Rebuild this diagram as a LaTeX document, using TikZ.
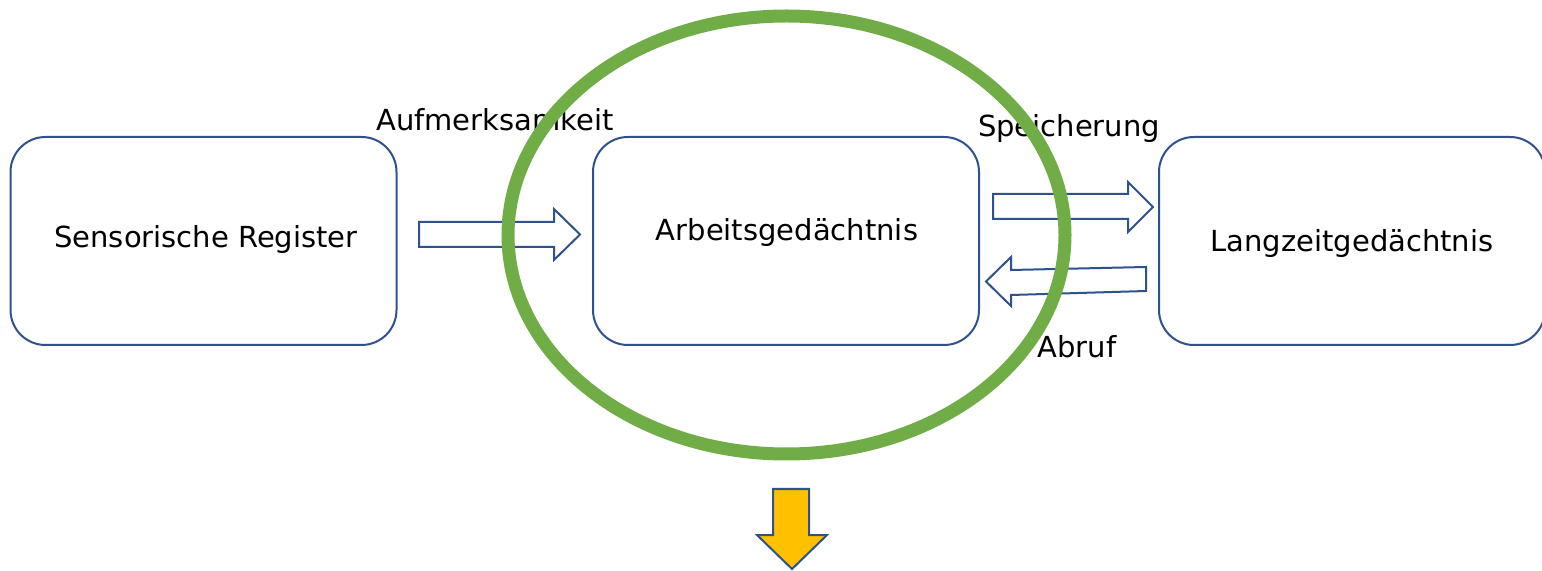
\documentclass[tikz,border=0pt]{standalone}
\usepackage{fontspec}
\setmainfont{DejaVu Sans}
\usetikzlibrary{shapes.geometric}
\definecolor{boxblue}{HTML}{2F528F}
\definecolor{ellgreen}{HTML}{70AD47}
\definecolor{arrowyellow}{HTML}{FFC000}
\begin{document}
\begin{tikzpicture}[x=0.5pt,y=-0.5pt,
  box/.style={draw=boxblue, line width=1pt, rounded corners=17.5pt, fill=white,
    minimum width=193pt, minimum height=104pt, inner sep=0pt},
  boxtext/.style={font=\fontsize{14.5}{17}\selectfont, text=black, anchor=base, inner sep=0pt},
  lbl/.style={font=\fontsize{14.5}{17}\selectfont, text=black, anchor=base, inner sep=0pt},
  blockarrow/.style={draw=boxblue, line width=1pt, fill=white, line join=miter},
]
\useasboundingbox (0,0) rectangle (1542,571);
\begin{scope}
\clip (0,0) rectangle (1542,571);
\fill[white] (0,0) rectangle (1542,571);
% boxes
\node[box] (sr) at (203.5,241) {};
\node[box] (ag) at (786,241) {};
\node[box] (lz) at (1352,241) {};
\node[boxtext] (srt) at (206,248) {Sensorische Register};
\node[boxtext] (agt) at (787,241) {Arbeitsgedächtnis};
\node[boxtext] (lzt) at (1352,252) {Langzeitgedächtnis};
% block arrows
\draw[blockarrow] (419,222) -- (554,222) -- (554,209) -- (580,234.5) -- (554,260) -- (554,247) -- (419,247) -- cycle;
\draw[blockarrow] (993,194) -- (1128,194) -- (1128,182) -- (1153,207) -- (1128,232) -- (1128,219) -- (993,219) -- cycle;
\draw[blockarrow] (1146,267) -- (1011,270) -- (1011,257) -- (986,281.5) -- (1011,306) -- (1011,295) -- (1146,291) -- cycle;
% labels
\node[lbl] (aufm) at (495,131) {Aufmerksamkeit};
\node[lbl] (speich) at (1069,137) {Speicherung};
\node[lbl] (abruf) at (1077,358) {Abruf};
% green ellipse
\draw[ellgreen, line width=6.5pt] (786.5,235) ellipse [x radius=139.25pt, y radius=109.5pt];
% yellow arrow
\draw[draw=boxblue, line width=1pt, fill=arrowyellow, line join=miter]
  (773,489) -- (809,489) -- (809,535) -- (827,535) -- (792,569) -- (757,535) -- (773,535) -- cycle;
\end{scope}
\end{tikzpicture}
\end{document}
